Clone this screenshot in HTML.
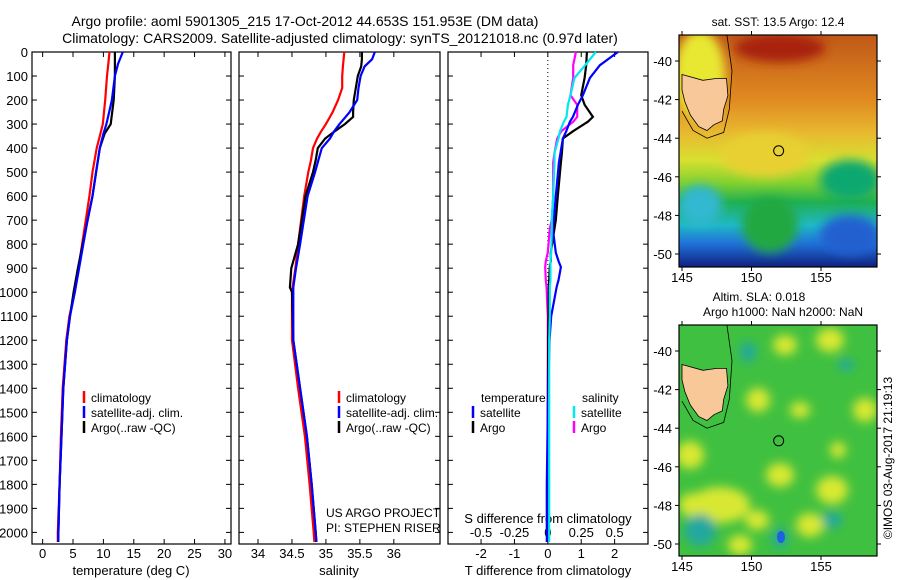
<!DOCTYPE html>
<html><head><meta charset="utf-8"><style>
html,body{margin:0;padding:0;background:#fff;}
svg{display:block;font-family:"Liberation Sans",sans-serif;}
</style></head><body>
<svg id="chart" width="900" height="580" viewBox="0 0 900 580">
<defs>
<linearGradient id="sstGrad" x1="0" y1="0" x2="0" y2="1">
<stop offset="0" stop-color="#c05818"/><stop offset="0.28" stop-color="#e08a20"/><stop offset="0.42" stop-color="#e8b830"/>
<stop offset="0.54" stop-color="#d8e030"/><stop offset="0.64" stop-color="#80d030"/><stop offset="0.72" stop-color="#20b050"/>
<stop offset="0.82" stop-color="#20b8c8"/><stop offset="0.9" stop-color="#2070d8"/><stop offset="1" stop-color="#102080"/>
</linearGradient>
<filter id="blur4"><feGaussianBlur stdDeviation="5"/></filter>
<clipPath id="clipM1"><rect x="679" y="35" width="198" height="232"/></clipPath>
<clipPath id="clipM2"><rect x="679" y="325" width="198" height="231"/></clipPath>
</defs>
<g font-size="14" text-anchor="middle" fill="#000">
<text x="305" y="26">Argo profile: aoml 5901305_215 17-Oct-2012 44.653S 151.953E (DM data)</text>
<text x="340" y="43">Climatology: CARS2009. Satellite-adjusted climatology: synTS_20121018.nc (0.97d later)</text>
</g>
<g id="panels"></g>
<g id="maps"></g>
</svg>
<script>
// ---- data ----
const depthT = [0,50,100,200,300,340,400,500,600,700,800,900,1000,1100,1200,1400,1600,1800,2000,2040];
const tempClim = [11.0,10.8,10.6,10.3,9.9,9.5,8.9,8.2,7.7,7.1,6.5,5.9,5.3,4.4,3.9,3.3,3.0,2.8,2.5,2.5];
const tempSat  = [13.2,12.4,11.9,11.4,10.5,10.0,9.4,8.8,8.2,7.4,6.7,6.0,5.3,4.5,4.0,3.4,3.1,2.8,2.6,2.6];
const tempArgo = [11.9,11.9,11.9,11.7,11.2,10.2,9.4,8.8,8.2,7.4,6.6,5.8,5.1,4.5,4.0,3.4,3.1,2.8,2.6,2.6];
const depthS = [0,30,60,100,150,200,250,270,300,330,360,400,450,500,600,800,900,980,1000,1200,1400,1600,1800,2000,2040];
const salClim = [35.27,35.26,35.25,35.24,35.24,35.18,35.10,35.06,35.00,34.93,34.87,34.81,34.78,34.74,34.68,34.59,34.55,34.51,34.50,34.50,34.59,34.69,34.76,34.82,34.83];
const salSat  = [35.72,35.68,35.57,35.51,35.48,35.46,35.35,35.29,35.20,35.12,35.06,34.94,34.89,34.84,34.73,34.62,34.56,34.52,34.52,34.52,34.62,34.72,34.79,34.85,34.86];
const salArgo = [35.53,35.53,35.52,35.47,35.44,35.41,35.40,35.40,35.28,35.13,34.99,34.88,34.85,34.81,34.70,34.59,34.49,34.47,34.50,34.52,34.62,34.72,34.79,34.85,34.86];
const depthD = [0,55,108,180,220,270,290,330,360,420,460,600,700,735,835,870,895,950,975,1100,1200,1500,1800,2040];
const dTsat  = [2.1,1.56,1.26,1.05,0.9,0.75,0.66,0.55,0.45,0.38,0.33,0.24,0.18,0.15,0.24,0.32,0.39,0.32,0.27,0.1,0.05,0.0,-0.03,-0.03];
const dTargo = [1.17,1.15,1.1,1.0,1.1,1.35,1.2,0.75,0.45,0.42,0.39,0.3,0.24,0.2,0.09,0.09,0.06,0.04,0.03,0.02,0.01,0.0,0.0,0.0];
const dSsat  = [0.36,0.28,0.2,0.17,0.15,0.14,0.12,0.09,0.08,0.05,0.05,0.04,0.03,0.03,0.025,0.02,0.02,0.02,0.015,0.015,0.01,0.01,0.01,0.01];
const dSargo = [0.21,0.19,0.19,0.17,0.22,0.22,0.19,0.1,0.07,0.05,0.04,0.04,0.03,0.015,0.0,-0.015,-0.02,-0.015,-0.01,0.0,0.0,0.0,0.0,0.0];
const depthTicks = [0,100,200,300,400,500,600,700,800,900,1000,1100,1200,1300,1400,1500,1600,1700,1800,1900,2000];
const tempTicks = [0,5,10,15,20,25,30];
const salTicks = [34,34.5,35,35.5,36];
const dTTicks = [-2,-1,0,1,2];
const dSTicks = [-0.5,-0.25,0,0.25,0.5];
const lonTicks = [145,150,155];
const latTicks = [-40,-42,-44,-46,-48,-50];

const NS='http://www.w3.org/2000/svg';
function mk(tag,attrs,parent){const e=document.createElementNS(NS,tag);for(const k in attrs)e.setAttribute(k,attrs[k]);parent.appendChild(e);return e;}
const yD = d => 52 + d*0.2402;
const P = document.getElementById('panels');
const panels = [
 {x0:32,x1:231,vmin:-1.75,vmax:31.0},
 {x0:239,x1:440,vmin:33.72,vmax:36.68},
 {x0:448,x1:648,vmin:-2.99,vmax:3.0}
];
const xOf = (p,v)=> p.x0 + (v-p.vmin)/(p.vmax-p.vmin)*(p.x1-p.x0);
const xS = v => xOf(panels[2], v*4);
panels.forEach((p,i)=>{
  const r=mk('rect',{x:p.x0,y:52,width:p.x1-p.x0,height:492,fill:'none',stroke:'#000','stroke-width':1.2},P);
  
  
  depthTicks.forEach(d=>{
    mk('line',{x1:p.x0,x2:p.x0+5,y1:yD(d),y2:yD(d),stroke:'#000'},P);
    mk('line',{x1:p.x1,x2:p.x1-5,y1:yD(d),y2:yD(d),stroke:'#000'},P);
  });
});
depthTicks.forEach(d=>{
  const t=mk('text',{x:28,y:yD(d)+5,'font-size':13,'text-anchor':'end'},P);
  t.textContent=d;
  
  
});
function xticks(p,ticks,fn,ylab){
  ticks.forEach(v=>{const x=fn(v);
    mk('line',{x1:x,x2:x,y1:544,y2:539,stroke:'#000'},P);
    mk('line',{x1:x,x2:x,y1:52,y2:57,stroke:'#000'},P);
    const t=mk('text',{x:x,y:ylab,'font-size':13,'text-anchor':'middle'},P);
    t.textContent=v;
    
    
  });
}
xticks(panels[0],tempTicks,v=>xOf(panels[0],v),558);
xticks(panels[1],salTicks,v=>xOf(panels[1],v),558);
xticks(panels[2],dTTicks,v=>xOf(panels[2],v),558);
dSTicks.forEach(v=>{const t=mk('text',{x:xS(v),y:537,'font-size':13,'text-anchor':'middle'},P);t.textContent=v;
  
  });
[['temperature (deg C)',131,'x-axis-title-temperature'],['salinity',339,'x-axis-title-salinity'],['T difference from climatology',548,'x-axis-title-t-diff']].forEach(a=>{
  const t=mk('text',{x:a[1],y:575,'font-size':13,'text-anchor':'middle'},P);t.textContent=a[0];
  
  
});
{const t=mk('text',{x:548,y:523,'font-size':13,'text-anchor':'middle'},P);t.textContent='S difference from climatology';
 
 }
mk('line',{x1:xOf(panels[2],0),x2:xOf(panels[2],0),y1:52,y2:544,stroke:'#000','stroke-dasharray':'1,3'},P);
function line(depths,vals,fx,color,name){
  const pts=depths.map((d,i)=>fx(vals[i]).toFixed(1)+','+yD(d).toFixed(1)).join(' ');
  const l=mk('polyline',{points:pts,fill:'none',stroke:color,'stroke-width':2.2},P);
  
  
}
const fT=v=>xOf(panels[0],v), fSal=v=>xOf(panels[1],v), fD=v=>xOf(panels[2],v);
line(depthT,tempClim,fT,'#ff0000','temp-climatology-line');
line(depthT,tempArgo,fT,'#000000','temp-argo-line');
line(depthT,tempSat,fT,'#0000ff','temp-satellite-line');
line(depthS,salClim,fSal,'#ff0000','sal-climatology-line');
line(depthS,salArgo,fSal,'#000000','sal-argo-line');
line(depthS,salSat,fSal,'#0000ff','sal-satellite-line');
line(depthD,dSargo,xS,'#ff00ff','s-diff-argo-line');
line(depthD,dTargo,fD,'#000000','t-diff-argo-line');
line(depthD,dTsat,fD,'#0000ff','t-diff-satellite-line');
line(depthD,dSsat,xS,'#00e8f0','s-diff-satellite-line');
function legend(x,y,items,name){
  items.forEach((it,i)=>{
    mk('line',{x1:x,x2:x,y1:y+i*15-11,y2:y+i*15+1,stroke:it[1],'stroke-width':2.5},P);
    const t=mk('text',{x:x+7,y:y+i*15,'font-size':12},P);t.textContent=it[0];
    
    
  });
}
legend(84,402,[['climatology','#ff0000'],['satellite-adj. clim.','#0000ff'],['Argo(..raw -QC)','#000']],'temp-legend');
legend(339,402,[['climatology','#ff0000'],['satellite-adj. clim.','#0000ff'],['Argo(..raw -QC)','#000']],'sal-legend');
legend(473,417,[['satellite','#0000ff'],['Argo','#000']],'t-diff-legend');
legend(574,417,[['satellite','#00e8f0'],['Argo','#ff00ff']],'s-diff-legend');
[['temperature',481,402],['salinity',582,402],['US ARGO PROJECT',326,517],['PI: STEPHEN RISER',326,532]].forEach(a=>{
  const t=mk('text',{x:a[1],y:a[2],'font-size':12},P);t.textContent=a[0];
  
  
});

// ---- maps ----
const M=document.getElementById('maps');
const lonX = lon => 682 + (lon-145)*13.9;
function drawMap(y0,h,latY,clip,kind){
  const g=mk('g',{'clip-path':'url(#'+clip+')'},M);
  if(kind==='sst'){
    mk('rect',{x:679,y:y0,width:198,height:h,fill:'url(#sstGrad)'},g);
    const bg=mk('g',{filter:'url(#blur4)'},g);
    mk('ellipse',{cx:780,cy:48,rx:45,ry:14,fill:'#a82008'},bg);
    mk('ellipse',{cx:700,cy:75,rx:25,ry:45,fill:'#e8e830'},bg);
    mk('ellipse',{cx:765,cy:155,rx:45,ry:22,fill:'#e8d030'},bg);
    mk('ellipse',{cx:850,cy:180,rx:30,ry:20,fill:'#10a870'},bg);
    mk('ellipse',{cx:700,cy:205,rx:22,ry:20,fill:'#30b8d0'},bg);
    mk('ellipse',{cx:770,cy:225,rx:28,ry:28,fill:'#20a840'},bg);
    mk('ellipse',{cx:850,cy:235,rx:30,ry:20,fill:'#2060d0'},bg);
  } else {
    mk('rect',{x:679,y:y0,width:198,height:h,fill:'#40c040'},g);
    const bg=mk('g',{filter:'url(#blur4)'},g);
    [[785,345,12,10],[830,340,14,12],[758,400,12,12],[800,410,10,8],[865,410,12,12],[690,455,14,14],[780,475,14,12],[832,490,16,14],[838,450,8,8],[693,505,14,12],[757,520,12,10],[740,545,12,10],[720,505,30,18],[810,525,14,12]].forEach(b=>mk('ellipse',{cx:b[0],cy:b[1],rx:b[2],ry:b[3],fill:'#d8e830'},bg));
    [[748,352,8,10],[846,365,8,6],[700,530,16,16],[780,538,8,10],[832,520,10,8]].forEach(b=>mk('ellipse',{cx:b[0],cy:b[1],rx:b[2],ry:b[3],fill:'#20a8a0'},bg));
    mk('ellipse',{cx:781,cy:537,rx:4,ry:6,fill:'#2060e0'},g);
  }
  const tas=[[145,-40.7],[146.5,-41.0],[147.5,-40.9],[148.2,-40.9],[148.3,-41.8],[148.0,-42.5],[147.9,-43.1],[147.3,-43.3],[146.8,-43.6],[146.2,-43.4],[145.6,-42.8],[145.2,-42.1],[145,-41.5]];
  const pts=tas.map(p=>lonX(p[0]).toFixed(1)+','+latY(p[1]).toFixed(1)).join(' ');
  const land=mk('polygon',{points:pts,fill:'#f8c898',stroke:'#000','stroke-width':0.8},g);
  
  
  const shelf=[[148.2,-38.5],[148.6,-40.5],[148.4,-42.5],[148.0,-43.7],[146.8,-44.0],[145.8,-43.6],[145.0,-42.6]];
  mk('polyline',{points:shelf.map(p=>lonX(p[0]).toFixed(1)+','+latY(p[1]).toFixed(1)).join(' '),fill:'none',stroke:'#000','stroke-width':0.8},g);
  const c=mk('circle',{cx:lonX(151.953),cy:latY(-44.653),r:5,fill:'none',stroke:'#000','stroke-width':1},M);
  
  
  const fr=mk('rect',{x:679,y:y0,width:198,height:h,fill:'none',stroke:'#000','stroke-width':1.2},M);
  
  
  latTicks.forEach(l=>{const y=latY(l);
    mk('line',{x1:679,x2:675,y1:y,y2:y,stroke:'#000'},M);
    mk('line',{x1:877,x2:881,y1:y,y2:y,stroke:'#000'},M);
    const t=mk('text',{x:672,y:y+5,'font-size':13,'text-anchor':'end'},M);t.textContent=l;
    
    
  });
  lonTicks.forEach(l=>{const x=lonX(l);
    mk('line',{x1:x,x2:x,y1:y0,y2:y0-4,stroke:'#000'},M);
    mk('line',{x1:x,x2:x,y1:y0+h,y2:y0+h+4,stroke:'#000'},M);
    const t=mk('text',{x:x,y:y0+h+15,'font-size':13,'text-anchor':'middle'},M);t.textContent=l;
    
    
  });
}
drawMap(35,232,l=>61+(-40-l)*19.3,'clipM1','sst');
drawMap(325,231,l=>351+(-40-l)*19.3,'clipM2','sla');
[['sat. SST: 13.5 Argo: 12.4',778,26],['Altim. SLA: 0.018',759,301],['Argo h1000: NaN h2000: NaN',783,316]].forEach(a=>{
  const t=mk('text',{x:a[1],y:a[2],'font-size':12,'text-anchor':'middle'},M);t.textContent=a[0];
  
  
});
{const t=mk('text',{x:0,y:0,'font-size':12,'text-anchor':'middle',transform:'translate(892,458) rotate(-90)'},M);
 t.textContent='©IMOS 03-Aug-2017 21:19:13';
 
 }
</script>
</body></html>
